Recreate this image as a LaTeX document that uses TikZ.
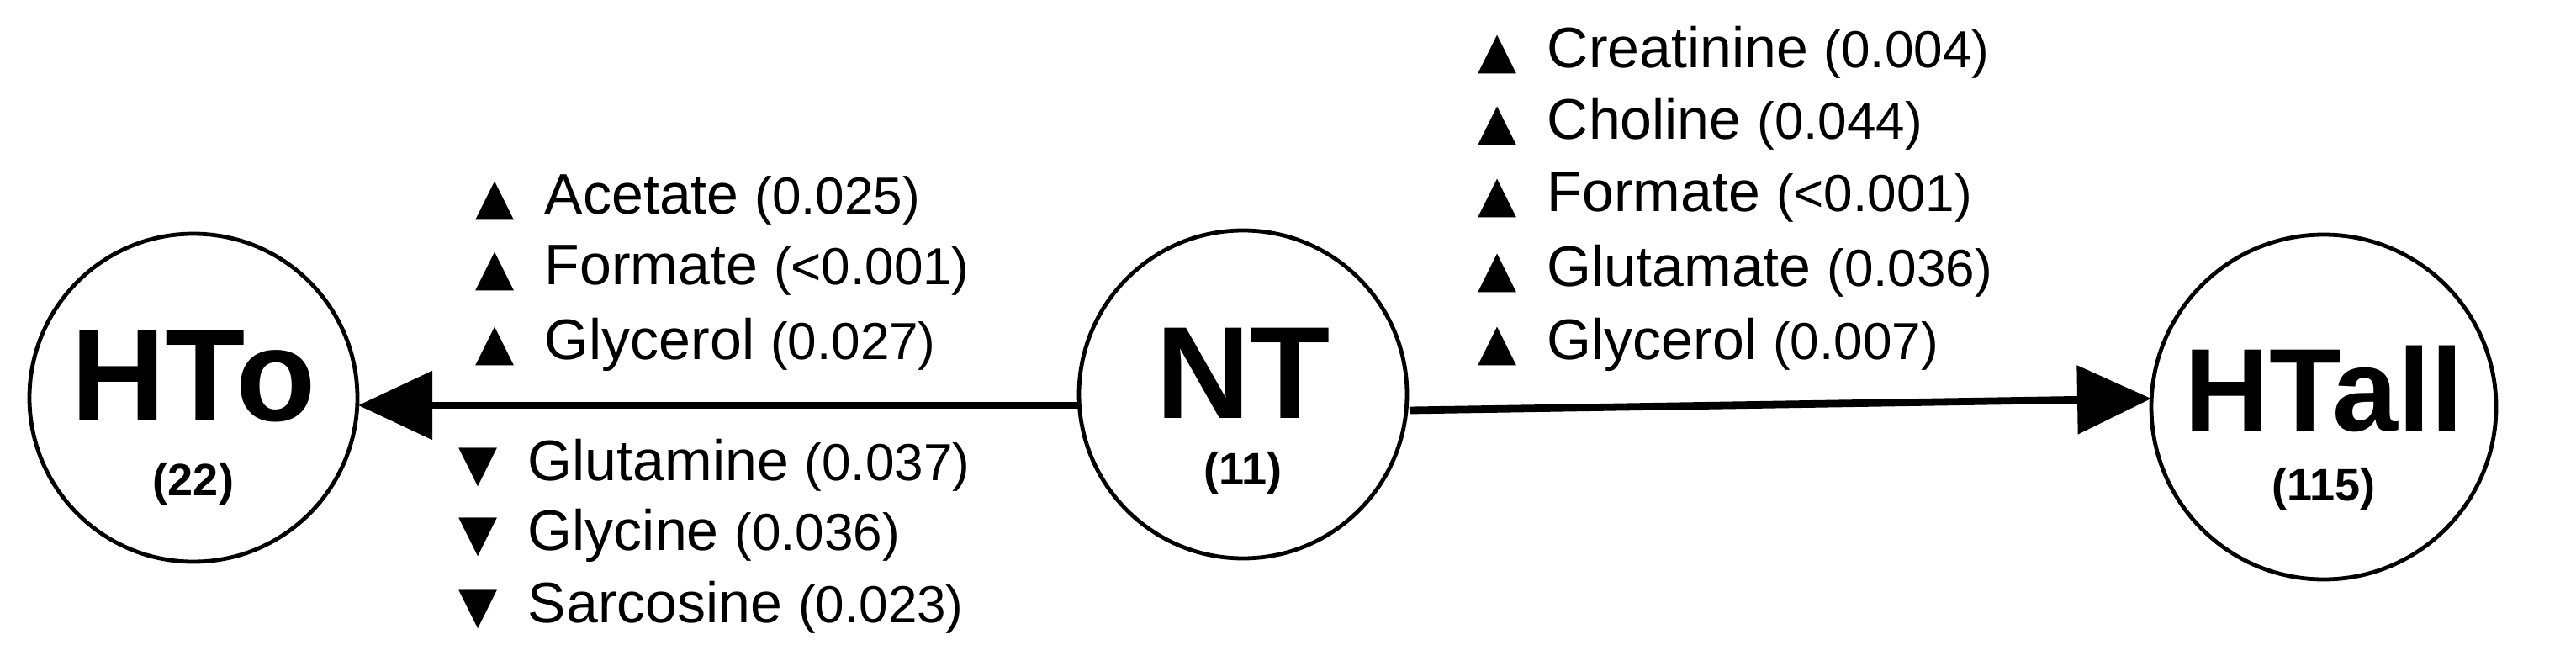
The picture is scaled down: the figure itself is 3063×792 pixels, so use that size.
\documentclass[tikz,border=0pt]{standalone}
\usepackage{fontspec}
\setmainfont{Liberation Sans}
\newfontfamily\symf{DejaVu Sans}
\usetikzlibrary{arrows.meta}
\begin{document}
\begin{tikzpicture}[x=0.25pt,y=-0.25pt,
  state/.style={circle,draw,line width=1.2pt,inner sep=0pt},
  lbl/.style={anchor=west,font=\fontsize{17}{20}\selectfont,inner sep=0pt},
  big/.style={font=\bfseries\fontsize{39}{39}\selectfont},
  small/.style={font=\bfseries\fontsize{13.5}{14}\selectfont},
  conn/.style={line width=2.2pt,-{Triangle[length=22pt,width=20pt]}}]
\useasboundingbox (0,0) rectangle (3063,792);
\node[state,minimum size=97.5pt] (hto) at (230,473) {};
\node[state,minimum size=97.5pt] (nt) at (1478,469) {};
\node[state,minimum size=102.5pt] (htall) at (2763,484) {};
\node[big] (htot) at (230,448) {HTo};
\node[small] (hton) at (230,576) {(22)};
\node[big] (ntt) at (1478,444) {NT};
\node[small] (ntn) at (1478,563) {(11)};
\node[big,font=\bfseries\fontsize{35}{35}\selectfont] (htallt) at (2763,462) {HTall};
\node[small] (htalln) at (2763,582) {(115)};
\coordinate (a1) at (1284,482); \coordinate (a2) at (426,482);
\coordinate (b1) at (1676,488); \coordinate (b2) at (2558,474);
\draw[conn] (a1) -- (a2);
\draw[conn] (b1) -- (b2);
\newcommand\up{{\symf\fontsize{15}{15}\selectfont ▲}\hspace{9pt}}
\newcommand\dn{{\symf\fontsize{15}{15}\selectfont ▼}\hspace{9pt}}
\newcommand\pv[1]{{\fontsize{15.5}{18}\selectfont (#1)}}
\node[lbl] (l1) at (565,238) {\up Acetate \pv{0.025}};
\node[lbl] (l2) at (565,322) {\up Formate \pv{<0.001}};
\node[lbl] (l3) at (565,410) {\up Glycerol \pv{0.027}};
\node[lbl] (l4) at (545,553) {\dn Glutamine \pv{0.037}};
\node[lbl] (l5) at (545,637) {\dn Glycine \pv{0.036}};
\node[lbl] (l6) at (545,722) {\dn Sarcosine \pv{0.023}};
\node[lbl] (r1) at (1757,62) {\up Creatinine \pv{0.004}};
\node[lbl] (r2) at (1757,147) {\up Choline \pv{0.044}};
\node[lbl] (r3) at (1757,235) {\up Formate \pv{<0.001}};
\node[lbl] (r4) at (1757,322) {\up Glutamate \pv{0.036}};
\node[lbl] (r5) at (1757,410) {\up Glycerol \pv{0.007}};
\end{tikzpicture}
\end{document}
